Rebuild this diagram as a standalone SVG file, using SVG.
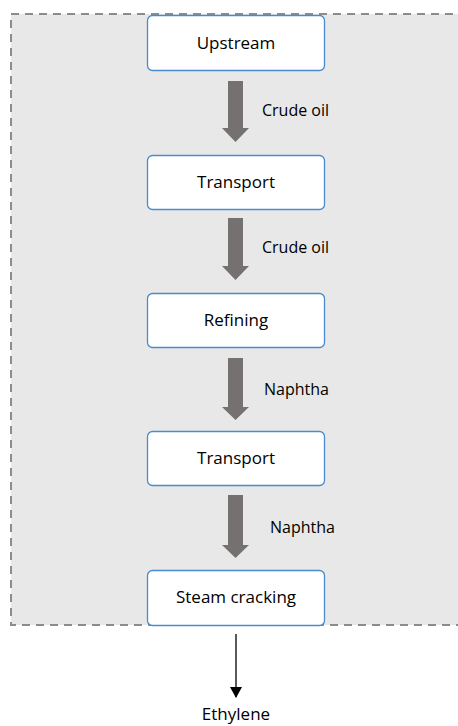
<svg xmlns="http://www.w3.org/2000/svg" width="458" height="726" viewBox="0 0 458 726">
<style>
.box{fill:#fff;stroke:#4a8ad0;stroke-width:1.3}
.t{font-family:"Open Sans","Noto Sans",sans-serif;font-size:17px;fill:#000;text-anchor:middle}
.l{font-family:"Open Sans","Noto Sans",sans-serif;font-size:16px;fill:#000}
.fat{fill:#767171}
</style>
<defs>
<marker id="ah" markerWidth="12" markerHeight="12" refX="10" refY="6" orient="auto" markerUnits="userSpaceOnUse">
<path d="M0,0 L11,6 L0,12 z" fill="#000"/>
</marker>
</defs>
<rect x="0" y="0" width="458" height="726" fill="#fff"/>
<rect id="boundary" x="11" y="14" width="460" height="611" fill="#e8e8e8" stroke="#8c8c8c" stroke-width="2" stroke-dasharray="8,6"/>
<g id="connectors">
<path class="fat" d="M228,81 H243 V128 H249 L235.5,142 L222,128 H228 Z"/>
<path class="fat" d="M228,218 H243 V266 H249 L235.5,280 L222,266 H228 Z"/>
<path class="fat" d="M228,358 H243 V407 H249 L235.5,420 L222,407 H228 Z"/>
<path class="fat" d="M228,495 H243 V545 H249 L235.5,558 L222,545 H228 Z"/>
<line x1="236" y1="634" x2="236" y2="697" stroke="#000" stroke-width="1.3" marker-end="url(#ah)"/>
<text class="l" x="262" y="116">Crude oil</text>
<text class="l" x="262" y="253">Crude oil</text>
<text class="l" x="264" y="395">Naphtha</text>
<text class="l" x="270" y="533">Naphtha</text>
</g>
<g id="upstream"><rect class="box" x="147.5" y="15.5" width="177" height="55" rx="5"/><text class="t" x="236" y="49">Upstream</text></g>
<g id="transport1"><rect class="box" x="147.5" y="155.5" width="177" height="54" rx="5"/><text class="t" x="236" y="188">Transport</text></g>
<g id="refining"><rect class="box" x="147.5" y="293.5" width="177" height="54" rx="5"/><text class="t" x="236" y="326">Refining</text></g>
<g id="transport2"><rect class="box" x="147.5" y="431.5" width="177" height="54" rx="5"/><text class="t" x="236" y="464">Transport</text></g>
<g id="steam"><rect class="box" x="147.5" y="570.5" width="177" height="55" rx="5"/><text class="t" x="236" y="603">Steam cracking</text></g>
<g id="ethylene"><text class="t" x="236" y="720">Ethylene</text></g>
</svg>
